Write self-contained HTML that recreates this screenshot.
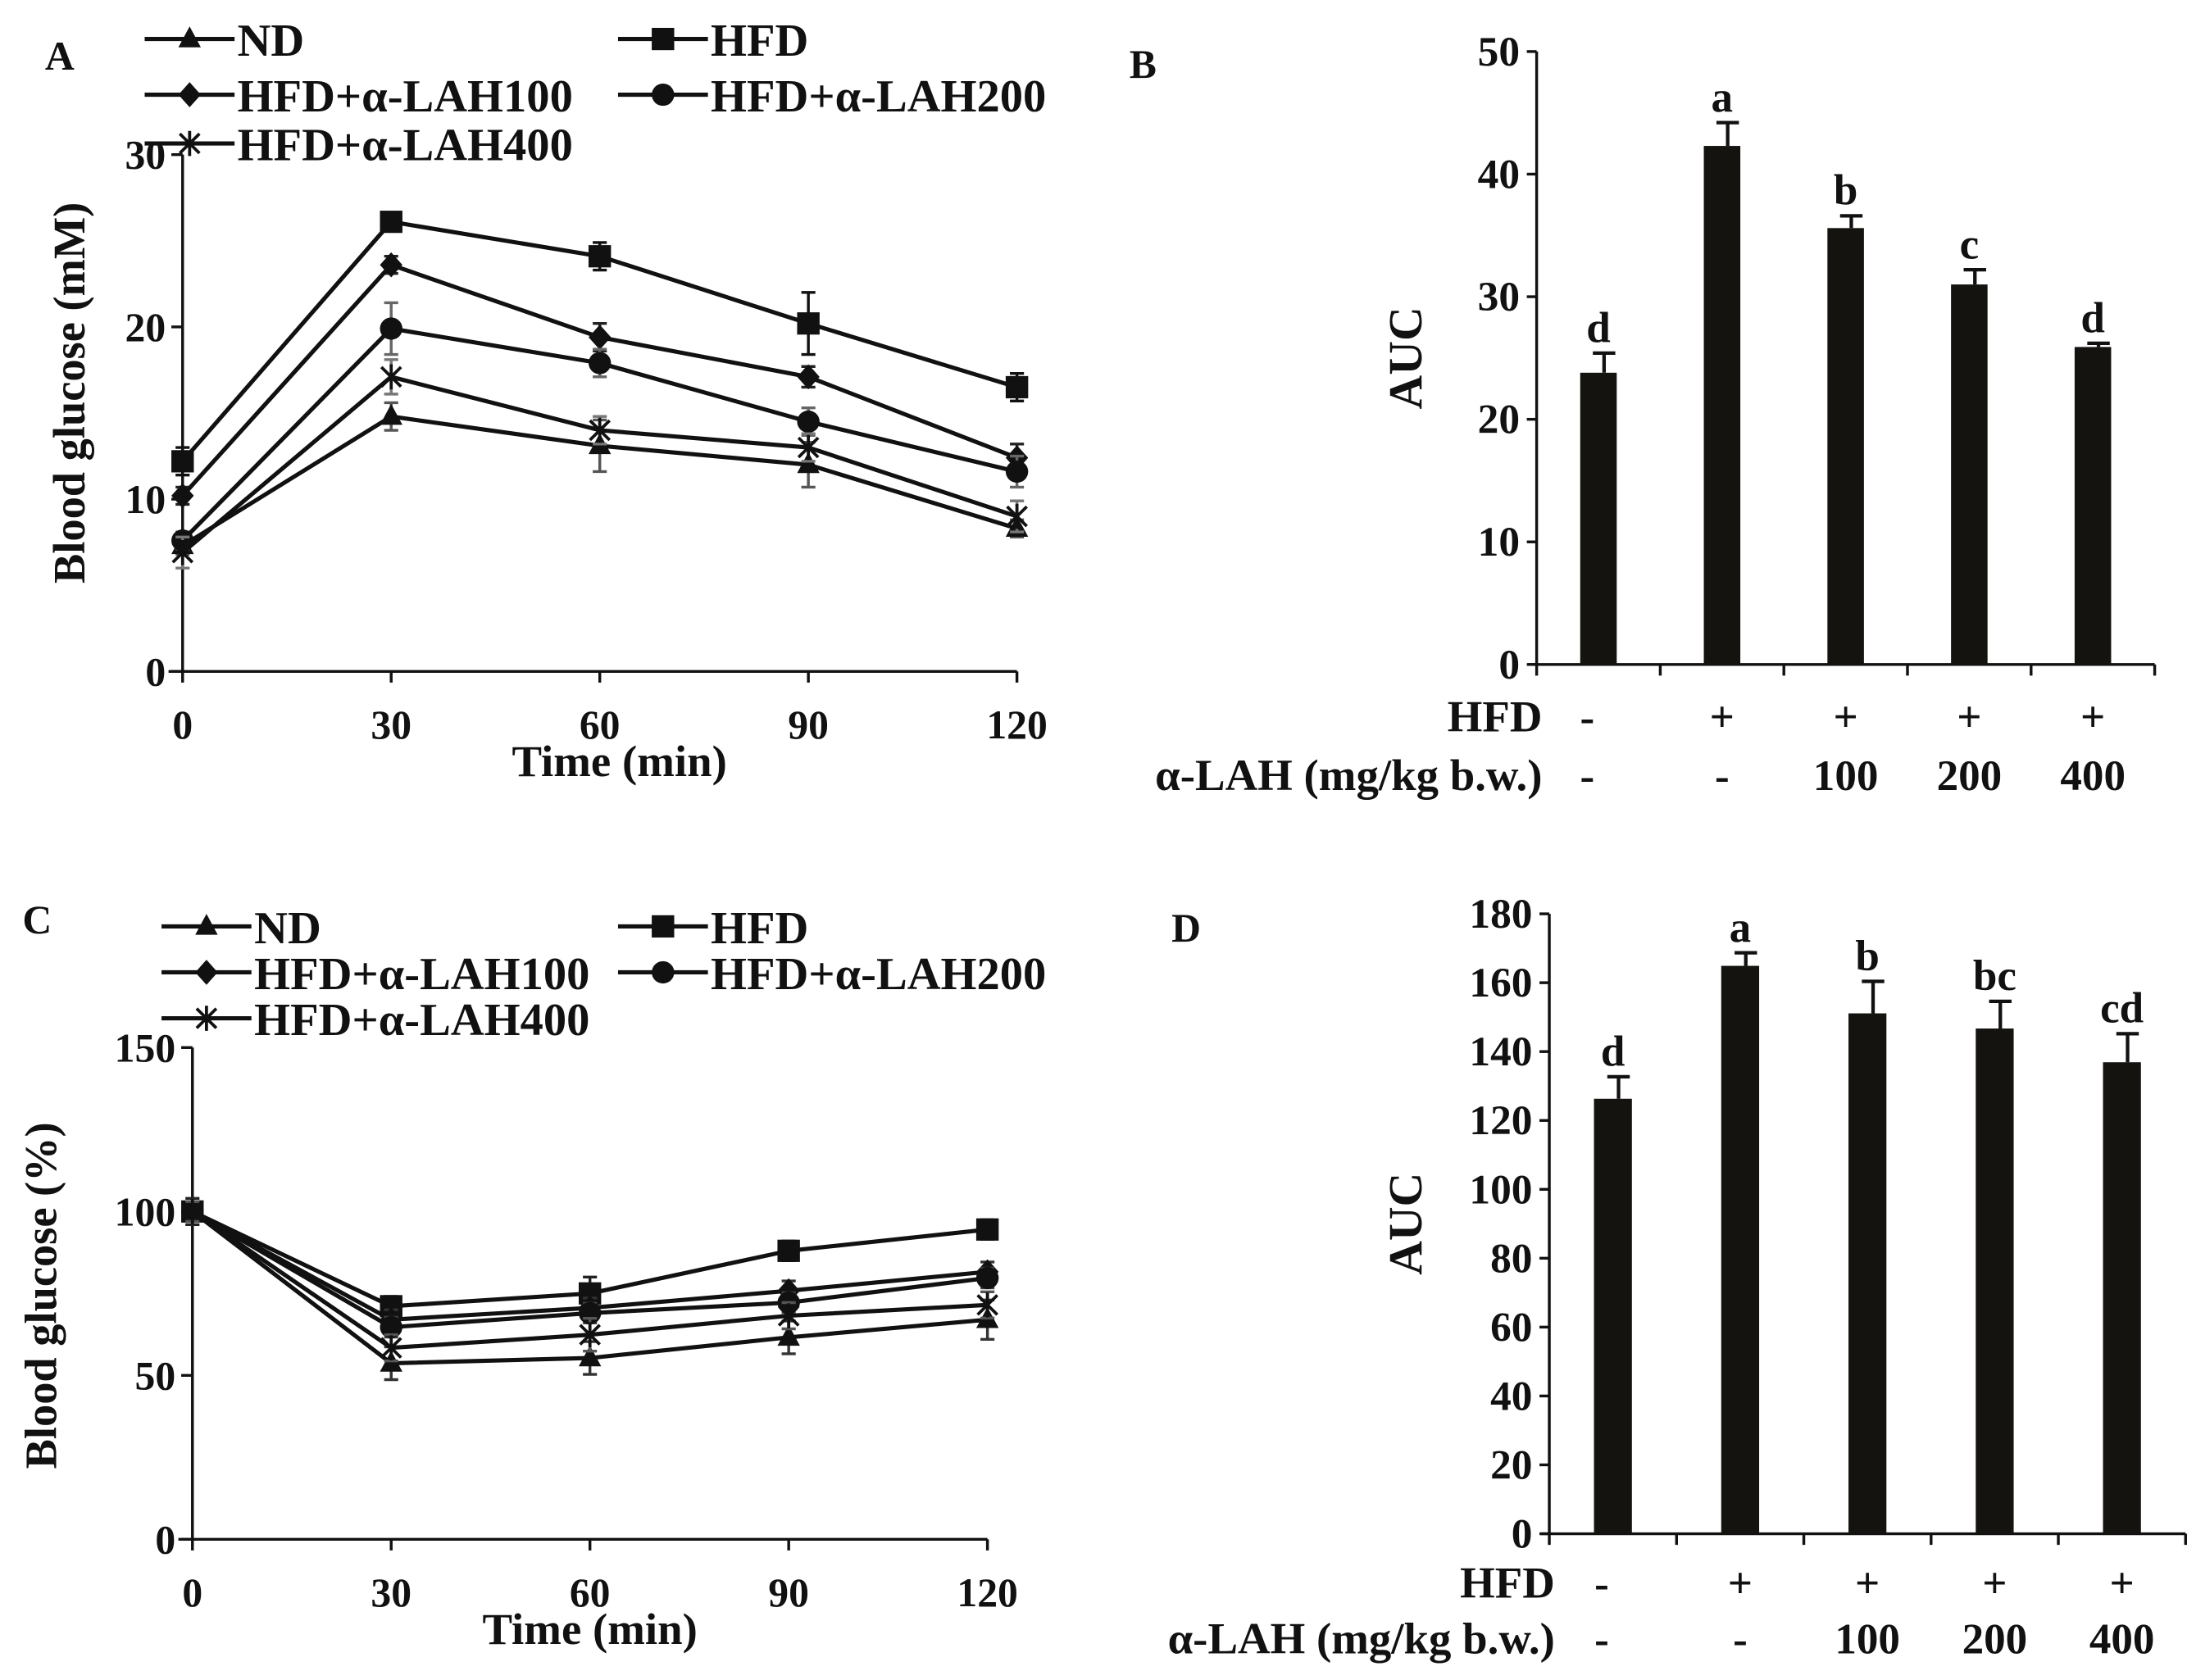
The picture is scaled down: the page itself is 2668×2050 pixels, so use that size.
<!DOCTYPE html>
<html><head><meta charset="utf-8"><style>
html,body{margin:0;padding:0;background:#fff;}
svg{display:block;}
text{font-family:"Liberation Serif",serif;font-weight:bold;fill:#111;}
</style></head><body>
<svg id="fig" width="2668" height="2050" viewBox="0 0 1557 1206" preserveAspectRatio="none" xmlns="http://www.w3.org/2000/svg"></svg>
<script>
// ---------- Data ----------
const times = [0, 30, 60, 90, 120];
const seriesNames = ["ND", "HFD", "HFD+α-LAH100", "HFD+α-LAH200", "HFD+α-LAH400"];
const seriesMarkers = ["triangle", "square", "diamond", "circle", "star"];
// Panel A (mM)
const aND = [7.3, 14.8, 13.1, 12.0, 8.3];
const aHFD = [12.2, 26.1, 24.1, 20.2, 16.5];
const a100 = [10.2, 23.6, 19.4, 17.1, 12.4];
const a200 = [7.6, 19.9, 17.9, 14.5, 11.6];
const a400 = [6.9, 17.1, 14.0, 13.0, 9.0];
const aErrND = [0.5, 0.8, 1.5, 1.3, 0.5];
const aErrHFD = [0.8, 0.5, 0.8, 1.8, 0.8];
const aErr100 = [0.5, 0.5, 0.8, 0.6, 0.8];
const aErr200 = [0.5, 1.5, 0.8, 0.8, 0.9];
const aErr400 = [0.9, 1.0, 0.8, 0.8, 0.9];
const aTicks = [0, 10, 20, 30];
// Panel C (%)
const cND = [100, 53.7, 55.3, 61.6, 67];
const cHFD = [100, 71.1, 75, 88, 94.5];
const c100 = [100, 67, 70.6, 75.8, 81.6];
const c200 = [100, 64.7, 69, 72.2, 79.7];
const c400 = [100, 58.4, 62.4, 68.2, 71.5];
const cErrND = [3, 5, 5, 5, 6];
const cErrHFD = [4, 3, 5, 3, 3];
const cErr100 = [3, 3, 3, 3, 3];
const cErr200 = [3, 3, 3, 3, 3];
const cErr400 = [3, 4, 5, 4, 4];
const cTicks = [0, 50, 100, 150];
// Panel B / D (AUC)
const hfdRow = ["-", "+", "+", "+", "+"];
const lahRow = ["-", "-", "100", "200", "400"];
const bValues = [23.8, 42.3, 35.6, 31.0, 25.9];
const bErrors = [1.6, 1.9, 1.0, 1.2, 0.3];
const bLetters = ["d", "a", "b", "c", "d"];
const bTicks = [0, 10, 20, 30, 40, 50];
const dValues = [126.3, 164.9, 151.1, 146.7, 136.9];
const dErrors = [6.4, 3.8, 9.3, 7.9, 8.3];
const dLetters = ["d", "a", "b", "bc", "cd"];
const dTicks = [0, 20, 40, 60, 80, 100, 120, 140, 160, 180];

// ---------- Helpers ----------
const NS = "http://www.w3.org/2000/svg";
const svg = document.getElementById("fig");
function mk(tag, attrs, parent) {
  const e = document.createElementNS(NS, tag);
  for (const k in attrs) e.setAttribute(k, attrs[k]);
  (parent || svg).appendChild(e);
  return e;
}
function txt(s, x, y, size, anchor, parent) {
  const t = mk("text", {x: x, y: y, "font-size": size, "text-anchor": anchor || "start"}, parent);
  t.textContent = s;
  return t;
}
function marker(type, x, y, parent) {
  const g = mk("g", {}, parent);
  if (type === "triangle") mk("polygon", {points: `${x},${y-9} ${x-8},${y+6} ${x+8},${y+6}`, fill: "#111"}, g);
  else if (type === "square") mk("rect", {x: x-8, y: y-8, width: 16, height: 16, fill: "#111"}, g);
  else if (type === "diamond") mk("polygon", {points: `${x},${y-9} ${x+8},${y} ${x},${y+9} ${x-8},${y}`, fill: "#111"}, g);
  else if (type === "circle") mk("circle", {cx: x, cy: y, r: 8, fill: "#111"}, g);
  else {
    mk("path", {d: `M${x-7},${y-7}L${x+7},${y+7}M${x+7},${y-7}L${x-7},${y+7}M${x},${y-9}L${x},${y+9}`, stroke: "#111", "stroke-width": 2.2}, g);
  }
  return g;
}

function linePanel(id, ax, legend) {
  const g = mk("g", {});
  
  
  const sx = v => ax.x0 + (v - times[0]) / (times[4] - times[0]) * (ax.x1 - ax.x0);
  const sy = v => ax.y0 - v / ax.max * (ax.y0 - ax.yTop);
  const yAxis = mk("line", {x1: ax.x0, y1: ax.y0, x2: ax.x0, y2: ax.yTop, stroke: "#111", "stroke-width": 2}, g);
  
  
  const xAxis = mk("line", {x1: ax.x0 - 10, y1: ax.y0, x2: ax.x1, y2: ax.y0, stroke: "#111", "stroke-width": 2}, g);
  
  
  ax.ticks.forEach(v => {
    mk("line", {x1: ax.x0 - 8, y1: sy(v), x2: ax.x0, y2: sy(v), stroke: "#111", "stroke-width": 2}, g);
    const t = txt(String(v), ax.x0 - 12, sy(v) + 10, 29, "end", g);
    
    
  });
  times.forEach(v => {
    mk("line", {x1: sx(v), y1: ax.y0, x2: sx(v), y2: ax.y0 + 8, stroke: "#111", "stroke-width": 2}, g);
    const t = txt(String(v), sx(v), ax.y0 + 48, 29, "middle", g);
    
    
  });
  const xt = txt("Time (min)", ax.xTitleX, ax.y0 + 75, 32, "middle", g);
  
  
  const yt = txt(ax.yTitle, 0, 0, 32, "middle", g);
  yt.setAttribute("transform", `translate(${ax.yTitleX},${ax.yTitleY}) rotate(-90)`);
  
  
  ax.series.forEach((vals, si) => {
    const sg = mk("g", {}, g);
    
    
    vals.forEach((v, i) => {
      const e = ax.errors[si][i];
      const col = ax.errColor[si];
      mk("path", {d: `M${sx(times[i])},${sy(v - e)}L${sx(times[i])},${sy(v + e)}M${sx(times[i])-5},${sy(v + e)}L${sx(times[i])+5},${sy(v + e)}M${sx(times[i])-5},${sy(v - e)}L${sx(times[i])+5},${sy(v - e)}`, stroke: col, "stroke-width": 2, fill: "none"}, sg);
    });
    const pts = vals.map((v, i) => `${sx(times[i])},${sy(v)}`).join(" ");
    const pl = mk("polyline", {points: pts, fill: "none", stroke: "#111", "stroke-width": 3}, sg);
    
    
    vals.forEach((v, i) => {
      const m = marker(seriesMarkers[si], sx(times[i]), sy(v), sg);
      
      
    });
  });
  const pos = legend.pos;
  seriesNames.forEach((name, si) => {
    const [lx, ly] = pos[si];
    const lg = mk("g", {}, g);
    
    
    mk("line", {x1: lx, y1: ly, x2: lx + 64, y2: ly, stroke: "#111", "stroke-width": 3}, lg);
    marker(seriesMarkers[si], lx + 32, ly, lg);
    txt(name, lx + 66, ly + 12, 33, "start", lg);
  });
  const pl = txt(legend.label, legend.lab[0], legend.lab[1], 29, "start", g);
  
  
}

function barPanel(id, ax, values, errors, letters, ticks) {
  const g = mk("g", {});
  
  
  const n = values.length;
  const step = (ax.x1 - ax.x0) / n;
  const cx = i => ax.x0 + step * (i + 0.5);
  const sy = v => ax.y0 - v / ticks[ticks.length - 1] * (ax.y0 - ax.yTop);
  const yAxis = mk("line", {x1: ax.x0, y1: ax.y0, x2: ax.x0, y2: ax.yTop, stroke: "#111", "stroke-width": 2}, g);
  
  
  const xAxis = mk("line", {x1: ax.x0 - 6, y1: ax.y0, x2: ax.x1, y2: ax.y0, stroke: "#111", "stroke-width": 2}, g);
  
  
  ticks.forEach(v => {
    mk("line", {x1: ax.x0 - 7, y1: sy(v), x2: ax.x0, y2: sy(v), stroke: "#111", "stroke-width": 2}, g);
    const t = txt(String(v), ax.x0 - 12, sy(v) + 10, 30, "end", g);
    
    
  });
  for (let i = 0; i <= n; i++) mk("line", {x1: ax.x0 + step * i, y1: ax.y0, x2: ax.x0 + step * i, y2: ax.y0 + 8, stroke: "#111", "stroke-width": 2}, g);
  values.forEach((v, i) => {
    const e = errors[i];
    mk("path", {d: `M${cx(i)+4},${sy(v)}L${cx(i)+4},${sy(v + e)}M${cx(i)-4},${sy(v + e)}L${cx(i)+12},${sy(v + e)}`, stroke: "#111", "stroke-width": 2.5, fill: "none"}, g);
    const r = mk("rect", {x: cx(i) - ax.bw / 2, y: sy(v), width: ax.bw, height: ax.y0 - sy(v), fill: "#15130f"}, g);
    
    
    const l = txt(letters[i], cx(i), sy(v + e) - 8, 31, "middle", g);
    
    
    const h = txt(hfdRow[i], cx(i) + (i === 0 ? -8 : 0), ax.rowHfd, 31, "middle", g);
    
    
    const a = txt(lahRow[i], cx(i) + (i === 0 ? -8 : 0), ax.rowLah, 31, "middle", g);
    
    
  });
  const hl = txt("HFD", ax.x0 + 4, ax.rowHfd, 32, "end", g);
  
  
  const al = txt("α-LAH (mg/kg b.w.)", ax.x0 + 4, ax.rowLah, 32, "end", g);
  
  
  const yt = txt("AUC", 0, 0, 34, "middle", g);
  yt.setAttribute("transform", `translate(${ax.yTitleX},${(ax.y0 + ax.yTop) / 2}) rotate(-90)`);
  
  
  const pl = txt(ax.label, ax.lab[0], ax.lab[1], 29, "start", g);
  
  
}

linePanel("panel-a", {
  x0: 130, x1: 724, y0: 482, yTop: 111, max: 30, ticks: aTicks,
  yTitle: "Blood glucose (mM)", yTitleX: 60, yTitleY: 282, xTitleX: 441,
  series: [aND, aHFD, a100, a200, a400],
  errors: [aErrND, aErrHFD, aErr100, aErr200, aErr400],
  errColor: ["#555", "#111", "#222", "#666", "#777"]
}, {label: "A", lab: [32, 50], pos: [[103, 28], [440, 28], [103, 68], [440, 68], [103, 103]]});

linePanel("panel-c", {
  x0: 137, x1: 703, y0: 1105, yTop: 752, max: 150, ticks: cTicks,
  yTitle: "Blood glucose (%)", yTitleX: 40, yTitleY: 930, xTitleX: 420,
  series: [cND, cHFD, c100, c200, c400],
  errors: [cErrND, cErrHFD, cErr100, cErr200, cErr400],
  errColor: ["#333", "#222", "#333", "#444", "#555"]
}, {label: "C", lab: [16, 670], pos: [[115, 665], [440, 665], [115, 698], [440, 698], [115, 731]]});

barPanel("panel-b", {x0: 1094, x1: 1534, y0: 477, yTop: 37, bw: 26, rowHfd: 525, rowLah: 567, yTitleX: 1012, label: "B", lab: [804, 56]}, bValues, bErrors, bLetters, bTicks);
barPanel("panel-d", {x0: 1103, x1: 1556, y0: 1101, yTop: 656, bw: 27, rowHfd: 1147, rowLah: 1187, yTitleX: 1012, label: "D", lab: [834, 676]}, dValues, dErrors, dLetters, dTicks);
</script>
</body></html>
